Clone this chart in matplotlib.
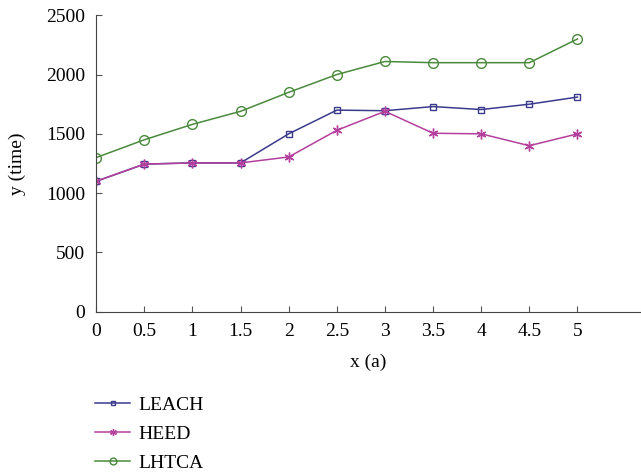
import matplotlib.pyplot as plt

x = [0, 0.5, 1, 1.5, 2, 2.5, 3, 3.5, 4, 4.5, 5]
leach = [1100, 1245, 1255, 1255, 1500, 1700, 1695, 1730, 1705, 1750, 1810]
heed = [1100, 1245, 1255, 1255, 1305, 1530, 1690, 1505, 1500, 1400, 1500]
lhtca = [1300, 1450, 1580, 1690, 1850, 2000, 2110, 2100, 2100, 2100, 2300]

plt.rcParams['font.family'] = ['Liberation Serif', 'DejaVu Serif']

fig = plt.figure(figsize=(6.41, 4.76), dpi=100)
ax = fig.add_axes([0.15, 0.345, 0.85, 0.623])

ax.plot(x, leach, color='#3b3b8e', lw=1.1, marker='s', ms=5, mfc='none', mew=1, label='LEACH')
ax.plot(x, heed, color='#b43f9c', lw=1.1, marker=(6, 2, 0), ms=7, mew=1, label='HEED')
ax.plot(x, lhtca, color='#4a8a3c', lw=1.1, marker='o', ms=7, mfc='none', mew=1, label='LHTCA')

ax.set_xlim(0, 5.66)
ax.set_ylim(0, 2500)
ax.set_xticks(x)
ax.set_xticklabels(['0', '0.5', '1', '1.5', '2', '2.5', '3', '3.5', '4', '4.5', '5'])
ax.set_yticks([0, 500, 1000, 1500, 2000, 2500])
ax.tick_params(direction='in', length=4, color='#555555', labelsize=14, pad=8)
for s in ['top', 'right']:
    ax.spines[s].set_visible(False)
for s in ['left', 'bottom']:
    ax.spines[s].set_color('#444444')
ax.set_xlabel('x (a)', fontsize=14, labelpad=10)
ax.set_ylabel('y (time)', fontsize=14, labelpad=14)

ax.legend(loc='upper left', bbox_to_anchor=(95 / 641, 1 - 396 / 476), bbox_transform=fig.transFigure,
          borderaxespad=0, borderpad=0, frameon=False, fontsize=14,
          handlelength=1.8, handletextpad=0.45, labelspacing=0.6, markerscale=0.7)

fig.savefig('out.png', dpi=100)
